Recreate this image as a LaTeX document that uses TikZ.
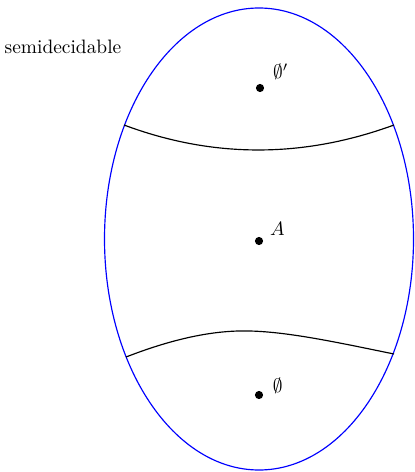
\documentclass[tikz,border=0pt]{standalone}
\usepackage{amsmath,amssymb}
\usetikzlibrary{positioning}
\tikzset{
  dot/.style={circle,fill,inner sep=0pt,minimum size=4.2pt},
}
\begin{document}
\begin{tikzpicture}[x=0.0181cm,y=-0.0181cm]
      \useasboundingbox (0,0) rectangle (414,472);
      \draw[blue,semithick] (259,239) ellipse (154.5 and 231);
    
      \coordinate (U1) at (124,125);
      \coordinate (U2) at (394,125);
      \coordinate (L1) at (126,357);
      \coordinate (L2) at (394,354);
      \draw[semithick] (U1) .. controls (213,158.3) and (303,158.3) .. (U2);
      \draw[semithick] (L1) .. controls (175,338) and (215,330) .. (250,331)
                            .. controls (290,332) and (340,343) .. (L2);
    
      \node[dot,label={[xshift=1.6pt,yshift=-1pt]above right:$\emptyset'$}] (T) at (260,88) {};
      \node[dot,label={[xshift=0.6pt,yshift=-2.5pt]above right:$A$}] (M) at (259,241) {};
      \node[dot,label={[xshift=2pt,yshift=-4.5pt]above right:$\emptyset$}] (B) at (259,395) {};
    
      \node (S) at (63,47) {semidecidable};
    \end{tikzpicture}
\end{document}
